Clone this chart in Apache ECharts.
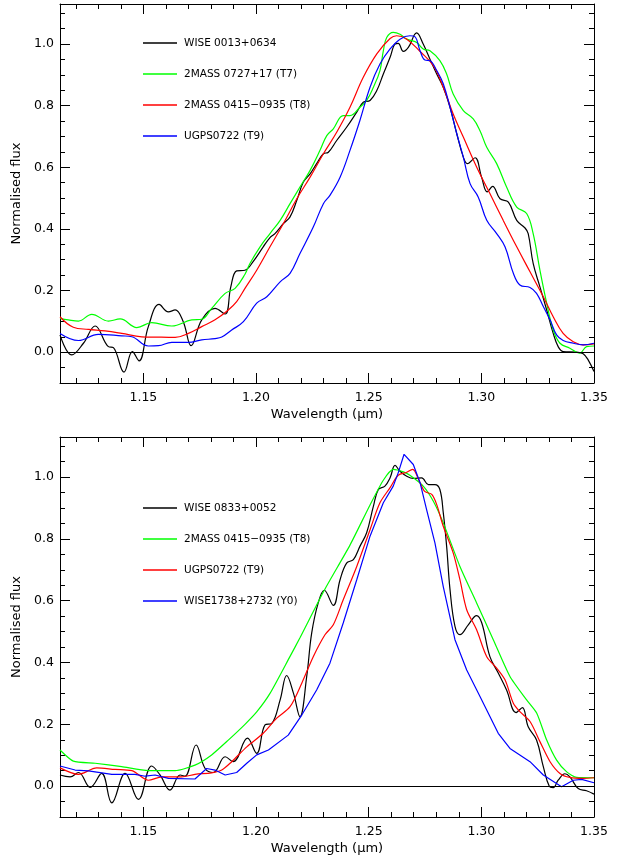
<!DOCTYPE html>
<html><head><meta charset="utf-8">
<script src="https://cdn.jsdelivr.net/npm/echarts@6/dist/echarts.min.js"></script>
<style>html,body{margin:0;padding:0;background:#fff}#c{width:621px;height:858px}</style>
</head><body><div id="c"></div>
<script>
// ---- tick values ----
const xMajorTicks = [1.15, 1.20, 1.25, 1.30, 1.35];
const xMinorTicks = [1.12, 1.13, 1.14, 1.16, 1.17, 1.18, 1.19, 1.21, 1.22, 1.23, 1.24, 1.26, 1.27, 1.28, 1.29, 1.31, 1.32, 1.33, 1.34];
const yMajorTicks = [0.0, 0.2, 0.4, 0.6, 0.8, 1.0];
const yMinorTicks = [-0.05, 0.05, 0.1, 0.15, 0.25, 0.3, 0.35, 0.45, 0.5, 0.55, 0.65, 0.7, 0.75, 0.85, 0.9, 0.95, 1.05, 1.1];

// ---- legend names ----
const topNames = ['WISE 0013+0634', '2MASS 0727+17 (T7)', '2MASS 0415\u22120935 (T8)', 'UGPS0722 (T9)'];
const bottomNames = ['WISE 0833+0052', '2MASS 0415\u22120935 (T8)', 'UGPS0722 (T9)', 'WISE1738+2732 (Y0)'];

// ---- top panel spectra [wavelength (um), normalised flux] ----
const topWise0013 = [[1.1130,0.056],[1.1182,-0.009],[1.1234,0.029],[1.1286,0.085],[1.1345,0.018],[1.1367,0.015],[1.1414,-0.065],[1.1451,0.002],[1.1481,-0.028],[1.1522,0.083],[1.1570,0.155],[1.1611,0.131],[1.1641,0.137],[1.1677,0.099],[1.1712,0.021],[1.1759,0.105],[1.1818,0.142],[1.1863,0.124],[1.1888,0.212],[1.1914,0.264],[1.1951,0.266],[1.1988,0.295],[1.2032,0.342],[1.2062,0.372],[1.2084,0.385],[1.2121,0.417],[1.2151,0.439],[1.2181,0.493],[1.2210,0.552],[1.2240,0.579],[1.2269,0.612],[1.2299,0.644],[1.2321,0.649],[1.2358,0.687],[1.2402,0.730],[1.2447,0.779],[1.2476,0.811],[1.2506,0.817],[1.2536,0.849],[1.2565,0.903],[1.2595,0.957],[1.2617,1.000],[1.2631,1.002],[1.2654,0.976],[1.2676,0.989],[1.2713,1.036],[1.2742,1.000],[1.2772,0.951],[1.2802,0.903],[1.2831,0.860],[1.2861,0.795],[1.2891,0.709],[1.2920,0.633],[1.2938,0.612],[1.2972,0.631],[1.3001,0.568],[1.3026,0.520],[1.3050,0.538],[1.3083,0.498],[1.3120,0.487],[1.3157,0.428],[1.3194,0.403],[1.3208,0.385],[1.3230,0.288],[1.3260,0.212],[1.3290,0.137],[1.3319,0.061],[1.3341,0.018],[1.3363,0.002],[1.3423,0.000],[1.3452,-0.005],[1.3474,-0.025],[1.3500,-0.063]];
const top2M0727 = [[1.1130,0.110],[1.1167,0.105],[1.1212,0.101],[1.1271,0.123],[1.1345,0.101],[1.1397,0.108],[1.1471,0.080],[1.1537,0.096],[1.1626,0.085],[1.1715,0.105],[1.1759,0.107],[1.1803,0.142],[1.1863,0.191],[1.1907,0.207],[1.1951,0.253],[1.1973,0.288],[1.2018,0.342],[1.2062,0.385],[1.2107,0.428],[1.2151,0.482],[1.2195,0.536],[1.2240,0.590],[1.2284,0.655],[1.2314,0.703],[1.2343,0.725],[1.2387,0.768],[1.2417,0.768],[1.2461,0.795],[1.2491,0.817],[1.2521,0.860],[1.2550,0.914],[1.2565,0.978],[1.2580,1.021],[1.2609,1.038],[1.2639,1.032],[1.2669,1.016],[1.2713,1.005],[1.2742,0.984],[1.2772,0.978],[1.2816,0.946],[1.2846,0.903],[1.2875,0.838],[1.2920,0.784],[1.2964,0.757],[1.2994,0.719],[1.3024,0.665],[1.3068,0.612],[1.3112,0.536],[1.3157,0.471],[1.3201,0.450],[1.3230,0.385],[1.3260,0.266],[1.3290,0.159],[1.3319,0.072],[1.3349,0.029],[1.3393,0.013],[1.3437,-0.003],[1.3467,0.018],[1.3500,0.020]];
const top2M0415 = [[1.1130,0.115],[1.1189,0.081],[1.1256,0.074],[1.1330,0.069],[1.1404,0.061],[1.1493,0.050],[1.1552,0.049],[1.1641,0.048],[1.1700,0.061],[1.1759,0.083],[1.1818,0.105],[1.1877,0.137],[1.1914,0.164],[1.1951,0.207],[1.2003,0.266],[1.2062,0.342],[1.2121,0.417],[1.2181,0.498],[1.2240,0.568],[1.2299,0.644],[1.2358,0.714],[1.2417,0.795],[1.2476,0.892],[1.2536,0.968],[1.2595,1.018],[1.2624,1.027],[1.2669,1.016],[1.2728,0.976],[1.2787,0.930],[1.2831,0.860],[1.2875,0.773],[1.2920,0.698],[1.2979,0.601],[1.3038,0.515],[1.3097,0.428],[1.3157,0.342],[1.3216,0.261],[1.3275,0.180],[1.3319,0.115],[1.3363,0.061],[1.3408,0.034],[1.3452,0.024],[1.3500,0.027]];
const topUGPS0722 = [[1.1130,0.061],[1.1212,0.038],[1.1300,0.058],[1.1404,0.053],[1.1449,0.050],[1.1522,0.020],[1.1567,0.021],[1.1626,0.032],[1.1700,0.032],[1.1759,0.040],[1.1818,0.044],[1.1848,0.049],[1.1892,0.072],[1.1944,0.099],[1.2003,0.159],[1.2048,0.180],[1.2107,0.228],[1.2151,0.256],[1.2195,0.320],[1.2254,0.406],[1.2299,0.482],[1.2328,0.509],[1.2373,0.568],[1.2417,0.655],[1.2461,0.752],[1.2506,0.860],[1.2550,0.935],[1.2595,0.984],[1.2639,1.016],[1.2683,1.027],[1.2705,1.024],[1.2728,0.978],[1.2750,0.948],[1.2772,0.946],[1.2802,0.914],[1.2831,0.871],[1.2861,0.795],[1.2891,0.709],[1.2920,0.633],[1.2950,0.547],[1.2986,0.504],[1.3024,0.428],[1.3068,0.385],[1.3105,0.342],[1.3142,0.256],[1.3171,0.218],[1.3216,0.210],[1.3245,0.191],[1.3275,0.148],[1.3305,0.105],[1.3334,0.056],[1.3363,0.038],[1.3408,0.029],[1.3452,0.024],[1.3500,0.029]];

// ---- bottom panel spectra ----
const botWise0833 = [[1.1130,0.036],[1.1175,0.030],[1.1212,0.044],[1.1264,-0.004],[1.1315,0.041],[1.1360,-0.054],[1.1419,0.041],[1.1478,-0.043],[1.1537,0.065],[1.1574,0.036],[1.1618,-0.013],[1.1663,0.036],[1.1685,0.032],[1.1734,0.133],[1.1774,0.057],[1.1811,0.044],[1.1863,0.095],[1.1899,0.079],[1.1962,0.155],[1.2003,0.106],[1.2040,0.198],[1.2070,0.203],[1.2107,0.279],[1.2136,0.358],[1.2166,0.301],[1.2195,0.225],[1.2225,0.355],[1.2247,0.495],[1.2276,0.593],[1.2303,0.634],[1.2343,0.585],[1.2373,0.668],[1.2402,0.722],[1.2432,0.733],[1.2461,0.776],[1.2491,0.820],[1.2521,0.906],[1.2543,0.960],[1.2572,0.971],[1.2595,0.998],[1.2617,1.038],[1.2639,1.019],[1.2669,1.003],[1.2698,0.996],[1.2735,0.998],[1.2765,0.976],[1.2794,0.976],[1.2816,0.960],[1.2831,0.885],[1.2846,0.776],[1.2861,0.636],[1.2883,0.517],[1.2905,0.490],[1.2942,0.522],[1.2979,0.552],[1.3002,0.528],[1.3038,0.419],[1.3075,0.366],[1.3112,0.311],[1.3154,0.238],[1.3182,0.254],[1.3208,0.192],[1.3245,0.149],[1.3275,0.063],[1.3301,0.000],[1.3319,-0.005],[1.3341,0.019],[1.3371,0.040],[1.3393,0.030],[1.3430,-0.008],[1.3467,-0.015],[1.3500,-0.026]];
const bot2M0415 = [[1.1130,0.117],[1.1189,0.081],[1.1286,0.074],[1.1404,0.063],[1.1522,0.050],[1.1641,0.050],[1.1729,0.068],[1.1803,0.101],[1.1877,0.149],[1.1951,0.200],[1.2003,0.240],[1.2062,0.300],[1.2151,0.420],[1.2195,0.480],[1.2303,0.634],[1.2417,0.780],[1.2506,0.910],[1.2565,0.990],[1.2609,1.025],[1.2654,1.017],[1.2683,1.006],[1.2742,0.971],[1.2787,0.922],[1.2831,0.852],[1.2905,0.711],[1.2979,0.593],[1.3053,0.474],[1.3127,0.355],[1.3201,0.279],[1.3246,0.236],[1.3290,0.149],[1.3334,0.084],[1.3379,0.046],[1.3423,0.028],[1.3500,0.027]];
const botUGPS0722 = [[1.1130,0.059],[1.1212,0.038],[1.1293,0.059],[1.1374,0.054],[1.1449,0.050],[1.1522,0.019],[1.1582,0.030],[1.1670,0.030],[1.1729,0.038],[1.1803,0.043],[1.1848,0.052],[1.1892,0.079],[1.1959,0.127],[1.2032,0.171],[1.2092,0.220],[1.2151,0.257],[1.2203,0.333],[1.2254,0.419],[1.2306,0.490],[1.2343,0.522],[1.2387,0.603],[1.2447,0.711],[1.2506,0.830],[1.2550,0.917],[1.2595,0.966],[1.2631,1.006],[1.2669,1.016],[1.2695,1.025],[1.2705,1.019],[1.2728,0.982],[1.2750,0.953],[1.2780,0.944],[1.2802,0.911],[1.2831,0.841],[1.2875,0.755],[1.2905,0.668],[1.2935,0.571],[1.2979,0.506],[1.3024,0.419],[1.3068,0.382],[1.3105,0.344],[1.3142,0.268],[1.3171,0.241],[1.3216,0.209],[1.3260,0.144],[1.3305,0.079],[1.3349,0.041],[1.3393,0.028],[1.3452,0.025],[1.3500,0.027]];
const botWise1738 = [[1.1130,0.065],[1.1197,0.052],[1.1256,0.049],[1.1360,0.038],[1.1463,0.038],[1.1508,0.032],[1.1552,0.036],[1.1611,0.025],[1.1729,0.023],[1.1781,0.057],[1.1818,0.052],[1.1863,0.036],[1.1914,0.044],[1.1959,0.074],[1.2003,0.101],[1.2055,0.117],[1.2143,0.165],[1.2203,0.230],[1.2269,0.311],[1.2328,0.398],[1.2387,0.528],[1.2447,0.668],[1.2506,0.809],[1.2565,0.917],[1.2609,0.971],[1.2631,1.014],[1.2657,1.074],[1.2698,1.041],[1.2728,0.982],[1.2757,0.895],[1.2794,0.787],[1.2831,0.646],[1.2883,0.474],[1.2935,0.376],[1.2994,0.290],[1.3075,0.171],[1.3127,0.122],[1.3216,0.079],[1.3275,0.036],[1.3356,-0.002],[1.3408,0.019],[1.3445,0.022],[1.3500,0.011]];

const FONT = 'DejaVu Sans';
const X_MIN = 1.113, X_MAX = 1.35, Y_MIN = -0.1, Y_MAX = 1.13;

function xAxes(g) {
  const base = {type:'value', gridIndex:g, min:X_MIN, max:X_MAX, splitLine:{show:false},
    axisLine:{show:true, onZero:false, lineStyle:{color:'#000', width:1}}};
  return [
    Object.assign({}, base, {position:'bottom',
      axisTick:{show:true, inside:true, length:10, customValues:xMajorTicks, lineStyle:{color:'#000', width:1}},
      axisLabel:{show:true, customValues:xMajorTicks, margin:8, color:'#000', fontFamily:FONT, fontSize:12.5,
        formatter:v=>v.toFixed(2)},
      name:'Wavelength (\u03bcm)', nameLocation:'middle', nameGap:25,
      nameTextStyle:{color:'#000', fontFamily:FONT, fontSize:13}}),
    Object.assign({}, base, {position:'bottom', axisLine:{show:false, onZero:false},
      axisTick:{show:true, inside:true, length:5, customValues:xMinorTicks, lineStyle:{color:'#000', width:1}},
      axisLabel:{show:false, customValues:xMinorTicks}}),
    Object.assign({}, base, {position:'top',
      axisTick:{show:true, inside:true, length:10, customValues:xMajorTicks, lineStyle:{color:'#000', width:1}},
      axisLabel:{show:false, customValues:xMajorTicks}}),
    Object.assign({}, base, {position:'top', axisLine:{show:false, onZero:false},
      axisTick:{show:true, inside:true, length:5, customValues:xMinorTicks, lineStyle:{color:'#000', width:1}},
      axisLabel:{show:false, customValues:xMinorTicks}})
  ];
}
function yAxes(g) {
  const base = {type:'value', gridIndex:g, min:Y_MIN, max:Y_MAX, splitLine:{show:false},
    axisLine:{show:true, onZero:false, lineStyle:{color:'#000', width:1}}};
  return [
    Object.assign({}, base, {position:'left',
      axisTick:{show:true, inside:true, length:10, customValues:yMajorTicks, lineStyle:{color:'#000', width:1}},
      axisLabel:{show:true, customValues:yMajorTicks, margin:6, color:'#000', fontFamily:FONT, fontSize:12.5,
        formatter:v=>v.toFixed(1)},
      name:'Normalised flux', nameLocation:'middle', nameGap:31, nameRotate:90,
      nameTextStyle:{color:'#000', fontFamily:FONT, fontSize:13}}),
    Object.assign({}, base, {position:'left', axisLine:{show:false, onZero:false},
      axisTick:{show:true, inside:true, length:5, customValues:yMinorTicks, lineStyle:{color:'#000', width:1}},
      axisLabel:{show:false, customValues:yMinorTicks}}),
    Object.assign({}, base, {position:'right',
      axisTick:{show:true, inside:true, length:10, customValues:yMajorTicks, lineStyle:{color:'#000', width:1}},
      axisLabel:{show:false, customValues:yMajorTicks}}),
    Object.assign({}, base, {position:'right', axisLine:{show:false, onZero:false},
      axisTick:{show:true, inside:true, length:5, customValues:yMinorTicks, lineStyle:{color:'#000', width:1}},
      axisLabel:{show:false, customValues:yMinorTicks}})
  ];
}

function line(name, data, color, g, smooth, withZero) {
  const s = {type:'line', name:name, data:data, xAxisIndex:4*g, yAxisIndex:4*g,
    showSymbol:false, symbol:'none', smooth:smooth, clip:true,
    lineStyle:{color:color, width:1.2}, itemStyle:{color:color}, emphasis:{disabled:true}};
  if (withZero) {
    s.markLine = {silent:true, symbol:'none', label:{show:false},
      lineStyle:{color:'#000', width:1, type:'solid'}, data:[{yAxis:0}]};
  }
  return s;
}

const topColors = ['#000000', '#00ff00', '#ff0000', '#0000ff'];
const botColors = ['#000000', '#00ff00', '#ff0000', '#0000ff'];

function legend(names, colors, top) {
  return {orient:'vertical', left:143, top:top, padding:0, itemWidth:34, itemHeight:1.5, itemGap:13,
    icon:'rect', selectedMode:false,
    textStyle:{fontFamily:FONT, fontSize:10.5, color:'#000', lineHeight:14, padding:[0,0,4,2]},
    data: names.map((n,i)=>({name:n, icon:'rect', itemStyle:{color:colors[i]}}))};
}

const chart = echarts.init(document.getElementById('c'), null, {renderer:'canvas'});
chart.setOption({
  animation:false,
  backgroundColor:'#fff',
  grid:[
    {left:60, top:4, width:534, height:379},
    {left:60, top:437, width:534, height:380}
  ],
  xAxis: xAxes(0).concat(xAxes(1)),
  yAxis: yAxes(0).concat(yAxes(1)),
  legend:[legend(topNames, topColors, 34), legend(bottomNames, botColors, 499)],
  series:[
    line(topNames[0], topWise0013, topColors[0], 0, 0.4, true),
    line(topNames[1], top2M0727, topColors[1], 0, 0.4, false),
    line(topNames[2], top2M0415, topColors[2], 0, 0.4, false),
    line(topNames[3], topUGPS0722, topColors[3], 0, 0.4, false),
    line(bottomNames[0], botWise0833, botColors[0], 1, 0.4, true),
    line(bottomNames[1], bot2M0415, botColors[1], 1, 0.2, false),
    line(bottomNames[2], botUGPS0722, botColors[2], 1, 0.3, false),
    line(bottomNames[3], botWise1738, botColors[3], 1, false, false)
  ]
});
</script></body></html>
